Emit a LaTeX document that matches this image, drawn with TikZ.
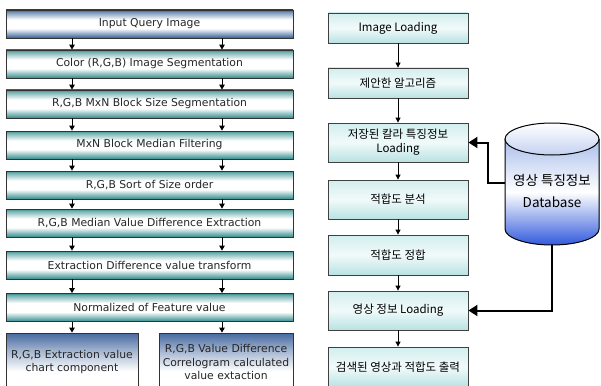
\documentclass[tikz,border=0pt]{standalone}
\usepackage{fontspec}
\setmainfont{DejaVu Sans}
\newfontfamily\kr{Noto Sans CJK KR}
\usetikzlibrary{arrows.meta}
\definecolor{tealc}{RGB}{50,140,140}
\definecolor{bluec}{RGB}{50,95,150}
\definecolor{botblue}{RGB}{70,105,160}
\definecolor{rtop}{RGB}{210,238,238}
\definecolor{rbot}{RGB}{185,226,226}
\definecolor{dbblue}{RGB}{50,90,220}
\definecolor{dbtop}{RGB}{170,190,235}
\pgfdeclareverticalshading{tealsh}{100bp}{color(0bp)=(tealc); color(25bp)=(tealc);
  color(42bp)=(white); color(58bp)=(white); color(72bp)=(tealc!70!white); color(75bp)=(tealc); color(100bp)=(tealc)}
\pgfdeclareverticalshading{bluesh}{100bp}{color(0bp)=(bluec); color(25bp)=(bluec);
  color(42bp)=(white); color(58bp)=(white); color(72bp)=(bluec!70!white); color(75bp)=(bluec); color(100bp)=(bluec)}
\pgfdeclareverticalshading{botsh}{100bp}{color(0bp)=(white); color(25bp)=(white);
  color(42bp)=(white); color(60bp)=(botblue!50!white); color(75bp)=(botblue); color(100bp)=(botblue)}
\tikzset{
  lbox/.style={draw=black!80, line width=0.8pt, minimum width=287pt, minimum height=28pt,
    inner sep=0pt, font=\fontsize{10.8}{12}\selectfont, text=black!85},
  tealbox/.style={lbox, shading=tealsh},
  bluebox/.style={lbox, shading=bluesh},
  botbox/.style={draw=black!80, line width=0.8pt, minimum height=58pt, inner sep=0pt,
    shading=botsh, align=center,
    font=\fontsize{10.8}{13.5}\selectfont, text=black!85},
  rbox/.style={draw=black!75, line width=0.8pt, minimum width=140pt, minimum height=30pt,
    inner sep=0pt, top color=rtop, bottom color=rbot, middle color=white!70!rtop,
    align=center, font=\kr\fontsize{11.5}{14}\selectfont},
  sarr/.style={line width=1pt, -{Triangle[length=5pt,width=5.5pt]}},
  rarr/.style={line width=0.8pt, -{Triangle[length=5pt,width=5pt]}},
  barr/.style={line width=2pt, -{Triangle[length=9pt,width=11pt]}},
}
\begin{document}
\begin{tikzpicture}[x=1pt,y=-1pt]
\useasboundingbox (0,0) rectangle (601,385);
\clip (0,0) rectangle (601,385);

% left column
\node[bluebox] (l1) at (149.5,24) {Input Query Image};
\node[tealbox] (l2) at (149.5,64) {Color (R,G,B) Image Segmentation};
\node[tealbox] (l3) at (149.5,104) {R,G,B MxN Block Size Segmentation};
\node[tealbox] (l4) at (149.5,145) {MxN Block Median Filtering};
\node[tealbox] (l5) at (149.5,185) {R,G,B Sort of Size order};
\node[tealbox] (l6) at (149.5,223) {R,G,B Median Value Difference Extraction};
\node[tealbox] (l7) at (149.5,265) {Extraction Difference value transform};
\node[tealbox] (l8) at (149.5,307.5) {Normalized of Feature value};
\node[botbox, minimum width=132pt] (b1) at (72,362) {R,G,B Extraction value\\chart component};
\node[botbox, minimum width=134pt] (b2) at (226,362) {R,G,B Value Difference\\Correlogram calculated\\value extaction};

\foreach \a/\b in {l1/l2,l2/l3,l3/l4,l4/l5,l5/l6,l6/l7,l7/l8}{
  \draw[sarr] (\a.south -| 72,0) -- (\b.north -| 72,0);
  \draw[sarr] (\a.south -| 222,0) -- (\b.north -| 222,0);
}
\draw[sarr] (l8.south -| 72,0) -- (b1.north -| 72,0);
\draw[sarr] (l8.south -| 222,0) -- (b2.north -| 222,0);

% right column
\node[rbox] (r1) at (398,28) {Image Loading};
\node[rbox] (r2) at (398,83) {제안한 알고리즘};
\node[rbox, minimum height=39pt] (r3) at (398,142.5) {저장된 칼라 특징정보\\Loading};
\node[rbox, minimum height=39pt] (r4) at (398,199.5) {적합도 분석};
\node[rbox, minimum height=40pt] (r5) at (398,255) {적합도 정합};
\node[rbox, minimum height=39pt] (r6) at (398,310.5) {영상 정보 Loading};
\node[rbox, minimum height=40pt] (r7) at (398,367) {검색된 영상과 적합도 출력};

\foreach \a/\b in {r1/r2,r2/r3,r3/r4,r4/r5,r5/r6,r6/r7}{
  \draw[rarr] (\a.south) -- (\b.north);
}

% database cylinder
\fill[top color=dbtop, bottom color=dbblue, middle color=white]
  (505,139) -- (505,229) arc[start angle=180, end angle=360, x radius=47pt, y radius=16pt]
  -- (599,139) -- cycle;
\draw[line width=1pt] (505,139) -- (505,229)
  arc[start angle=180, end angle=360, x radius=47pt, y radius=16pt] -- (599,139);
\draw[line width=1pt, top color=white, bottom color=dbtop!70]
  (552,139) ellipse[x radius=47pt, y radius=16pt];
\node[align=center, inner sep=0pt, font=\kr\fontsize{13.5}{22}\selectfont] (db) at (552,191)
  {영상 특징정보\\Database};
\coordinate (dbw) at (505,183);
\coordinate (dbs) at (552,245);

\draw[barr] (dbw) -- ++(-17,0) |- (r3.east);
\draw[barr] (dbs) |- (r6.east);
\end{tikzpicture}
\end{document}
